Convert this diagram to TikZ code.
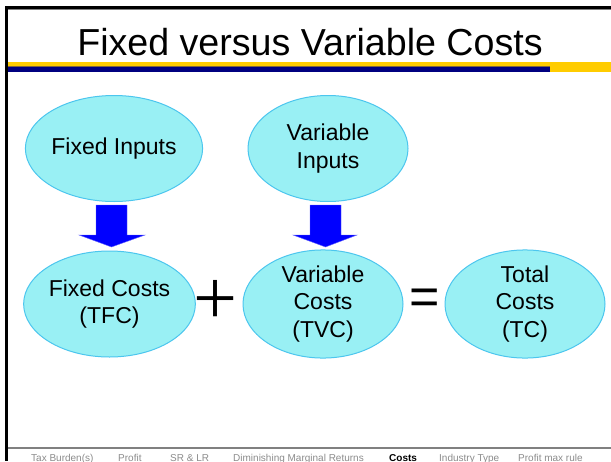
\documentclass[tikz,border=0pt]{standalone}
\usepackage{fontspec}
\setmainfont{Liberation Sans}
\newfontfamily\timesfont{Liberation Serif}
\usetikzlibrary{shapes.geometric}
\definecolor{ovfill}{HTML}{99F0F4}
\definecolor{ovline}{HTML}{4CC6EE}
\definecolor{barblue}{HTML}{0000FF}
\definecolor{baredge}{HTML}{6666FF}
\definecolor{navyband}{HTML}{000080}
\definecolor{goldband}{HTML}{FFCC00}
\definecolor{brownband}{HTML}{806640}
\definecolor{footgrey}{HTML}{8C8C8C}
\definecolor{rulegrey}{HTML}{808080}
\begin{document}
\begin{tikzpicture}[x=1pt,y=-1pt,
  oval/.style={ellipse, draw=ovline, line width=1pt, fill=ovfill,
    minimum width=160pt, minimum height=106pt, inner sep=0pt, align=center,
    font=\fontsize{23}{27.5}\selectfont},
  foot/.style={anchor=base west, inner sep=0pt, text=footgrey,
    font=\fontsize{10}{12}\selectfont},
  blockarrow/.style={fill=barblue, draw=baredge, line width=0.4pt},
  opsign/.style={inner sep=0pt, text=black}]
\useasboundingbox (0,0) rectangle (611,461);
\fill[white] (0,0) rectangle (611,461);
% frame
\fill[black] (5,6) rectangle (611,9);
\fill[rulegrey] (8,9) rectangle (611,10.2);
\fill[black] (5,6) rectangle (8,461);
% bands
\fill[goldband] (8,62) rectangle (611,72);
\fill[brownband] (8,66) rectangle (550,67);
\fill[navyband] (8,67) rectangle (550,72);
% bottom rule
\fill[rulegrey] (8,447.3) rectangle (611,448.8);
% title
\node[anchor=base, inner sep=0pt, font=\fontsize{37.6}{40}\selectfont] (title) at (310,55) {Fixed versus Variable Costs};
% ellipses
\node[oval] (fi) at (114,148.5) {Fixed Inputs};
\node[oval] (vi) at (328,148.5) {Variable\\Inputs};
\node[oval] (fc) at (109.5,304) {Fixed Costs\\(TFC)};
\node[oval] (vc) at (323,304) {Variable\\Costs\\(TVC)};
\node[oval] (tc) at (525,304) {Total\\Costs\\(TC)};
% block arrows
\draw[blockarrow] (96,205) -- (127,205) -- (127,235) -- (145,235) -- (111.5,247) -- (79,235) -- (96,235) -- cycle;
\draw[blockarrow] (310,205) -- (341,205) -- (341,235) -- (357,235) -- (325.5,247) -- (293,235) -- (310,235) -- cycle;
% operators
\node[opsign, font=\timesfont\fontsize{78}{80}\selectfont] (plus) at (215.5,302.5) {+};
\node[opsign, font=\fontsize{52}{56}\selectfont] (eq) at (424.5,301.5) {=};
% footer
\node[foot] (f1) at (31,461) {Tax Burden(s)};
\node[foot] (f2) at (118,461) {Profit};
\node[foot] (f3) at (170,461) {SR \& LR};
\node[foot] (f4) at (233,461) {Diminishing Marginal Returns};
\node[foot, text=black, font=\fontsize{10}{12}\selectfont\bfseries] (f5) at (389,461) {Costs};
\node[foot] (f6) at (439,461) {Industry Type};
\node[foot] (f7) at (518,461) {Profit max rule};
\end{tikzpicture}
\end{document}
